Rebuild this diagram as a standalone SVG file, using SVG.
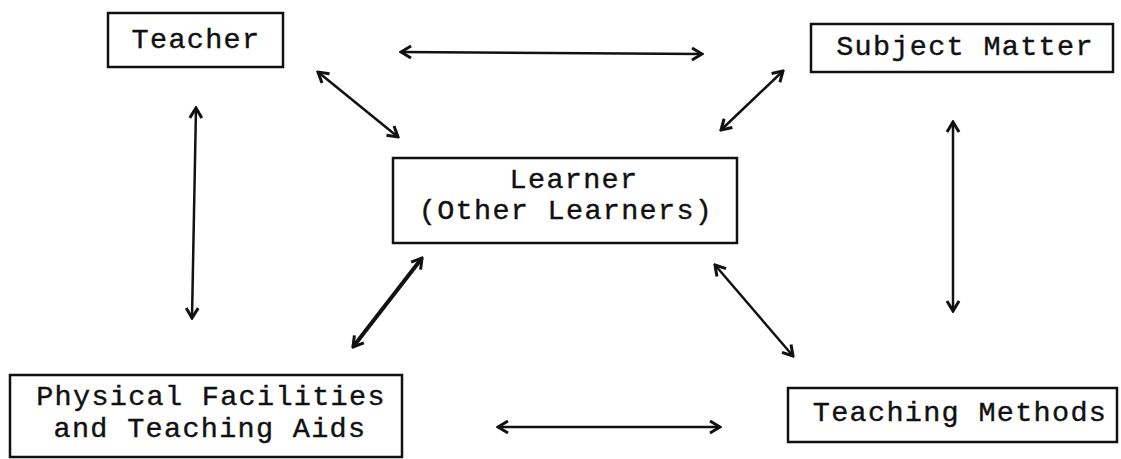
<svg xmlns="http://www.w3.org/2000/svg" width="1121" height="459" viewBox="0 0 1121 459">
<style>
  .box { fill: #ffffff; stroke: #111111; stroke-width: 2.5; }
  .lbl { font-family: "Liberation Mono", "Courier New", monospace; font-size: 28.5px; letter-spacing: 1.3px; fill: #111111; stroke: #111111; stroke-width: 0.4; text-anchor: middle; }
  .conn { stroke: #111111; stroke-width: 2.5; fill: none; marker-start: url(#ah); marker-end: url(#ah); }
  .thick { stroke-width: 4; }
</style>
<defs>
  <marker id="ah" viewBox="0 0 16 16" refX="14" refY="8" markerWidth="16" markerHeight="16" markerUnits="userSpaceOnUse" orient="auto-start-reverse">
    <path d="M4,2 L14,8 L4,14" fill="none" stroke="#111111" stroke-width="3" stroke-linejoin="miter"/>
  </marker>
</defs>
<rect width="1121" height="459" fill="#ffffff"/>
<g id="teacher">
  <rect class="box" x="108" y="13" width="175" height="54"/>
  <text class="lbl" x="196" y="48">Teacher</text>
</g>
<g id="subject-matter">
  <rect class="box" x="811" y="24" width="302" height="48"/>
  <text class="lbl" x="965" y="55">Subject Matter</text>
</g>
<g id="learner">
  <rect class="box" x="393" y="158" width="344" height="85"/>
  <text class="lbl" x="574" y="188">Learner</text>
  <text class="lbl" x="566" y="219">(Other Learners)</text>
</g>
<g id="physical-facilities">
  <rect class="box" x="10" y="375" width="392" height="82"/>
  <text class="lbl" x="211" y="405">Physical Facilities</text>
  <text class="lbl" x="210" y="437">and Teaching Aids</text>
</g>
<g id="teaching-methods">
  <rect class="box" x="788" y="388" width="329" height="54"/>
  <text class="lbl" x="960" y="421">Teaching Methods</text>
</g>
<g id="connectors">
  <line class="conn" x1="401" y1="52" x2="702" y2="54"/>
  <line class="conn" x1="318" y1="72" x2="398" y2="137"/>
  <line class="conn" x1="783" y1="71" x2="721" y2="130"/>
  <line class="conn" x1="196" y1="108" x2="192" y2="318"/>
  <line class="conn" x1="953" y1="122" x2="953" y2="311"/>
  <line class="conn thick" x1="353" y1="347" x2="422" y2="258"/>
  <line class="conn" x1="715" y1="265" x2="793" y2="356"/>
  <line class="conn" x1="498" y1="427" x2="720" y2="427"/>
</g>
</svg>
